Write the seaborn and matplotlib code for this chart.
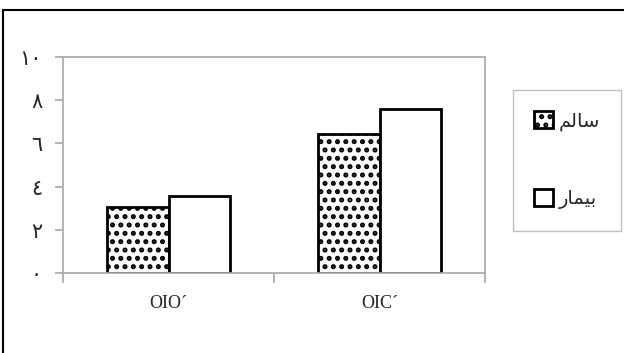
import matplotlib
matplotlib.use("Agg")
import matplotlib.pyplot as plt
import seaborn as sns
import pandas as pd
from matplotlib.lines import Line2D
from matplotlib.patches import Patch

# ---- data ----
categories = ["OIO\u00b4", "OIC\u00b4"]
groups = ["\uFEE2\uFEDF\uFE8E\uFEB3", "\uFEAD\uFE8E\uFEE4\uFEF4\uFE91"]  # سالم , بیمار (visual order, shaped)
healthy = [3.05, 6.45]
sick = [3.55, 7.6]
ytick_vals = [0, 2, 4, 6, 8, 10]
ytick_labels = ["\u0660", "\u0662", "\u0664", "\u0666", "\u0668", "\u0661\u0660"]

df = pd.DataFrame({
    "cat": categories * 2,
    "group": [groups[0]] * 2 + [groups[1]] * 2,
    "value": healthy + sick,
})

sns.set_style("white")
plt.rcParams["font.family"] = ["DejaVu Sans"]
plt.rcParams["hatch.linewidth"] = 2.4
plt.rcParams["hatch.color"] = "black"

W, H = 624, 353
fig = plt.figure(figsize=(W / 100, H / 100), dpi=100)
ax = fig.add_axes([63 / W, 1 - 273 / H, (485 - 63) / W, (273 - 57) / H])

sns.barplot(data=df, x="cat", y="value", hue="group", order=categories,
            hue_order=groups, palette=["white", "white"], width=0.58,
            edgecolor="black", linewidth=2.0, saturation=1, ax=ax, legend=False)

# hatch healthy bars
for i, p in enumerate(ax.patches):
    if i < len(categories):
        p.set_hatch("..")

ax.set_xlim(-0.5, 1.5)
ax.set_ylim(0, 10)
ax.set_yticks(ytick_vals)
ax.set_yticklabels(ytick_labels, fontsize=15, family=["DejaVu Sans"])
ax.set_xticks(range(len(categories)))
ax.set_xticklabels(categories, fontsize=13, family=["Liberation Serif"])
ax.set_xticks([-0.5, 0.5, 1.5], minor=True)
ax.tick_params(axis="x", which="major", length=0, pad=16)
ax.tick_params(axis="x", which="minor", length=7, width=1.2, color="#a8a8a8", direction="out", bottom=True)
ax.tick_params(axis="y", which="major", length=6, width=1.2, color="#a8a8a8", direction="out", left=True, pad=9)
ax.set_xlabel("")
ax.set_ylabel("")
for s in ax.spines.values():
    s.set_visible(True)
    s.set_color("#a8a8a8")
    s.set_linewidth(1.2)

# legend
h1 = Patch(facecolor="white", edgecolor="black", hatch="..", linewidth=2)
h2 = Patch(facecolor="white", edgecolor="black", linewidth=2)
leg = fig.legend([h1, h2], groups, loc="upper left",
                 bbox_to_anchor=(513 / W, 1 - 90 / H), borderaxespad=0,
                 frameon=True, fancybox=False, edgecolor="#b0b0b0",
                 fontsize=14, labelspacing=3.0, handlelength=0.95, handleheight=0.95,
                 handletextpad=0.3, borderpad=1.1)
leg.get_frame().set_linewidth(1.0)

# outer frame (top and left lines)
fig.add_artist(Line2D([3 / W, 1], [1 - 10 / H, 1 - 10 / H], transform=fig.transFigure, color="black", lw=1.5))
fig.add_artist(Line2D([3 / W, 3 / W], [1 - 10 / H, 0], transform=fig.transFigure, color="black", lw=1.5))

fig.savefig("out.png", dpi=100)
